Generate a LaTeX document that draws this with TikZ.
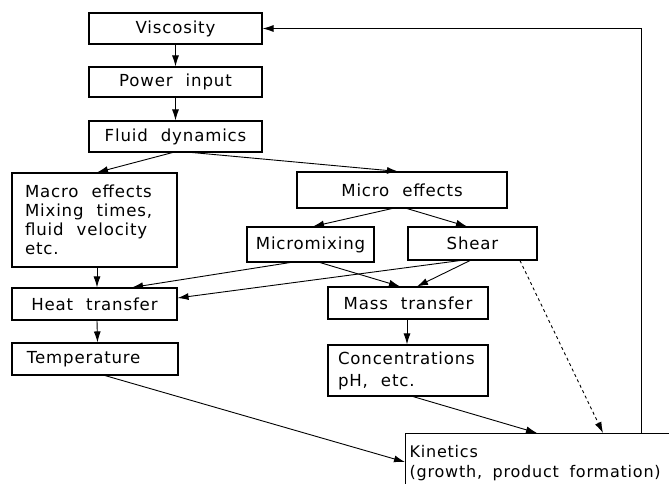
\documentclass[tikz,border=0pt]{standalone}
\usepackage{fontspec}
\setmainfont{DejaVu Sans}[LetterSpace=5]
\usetikzlibrary{arrows.meta}

\newcommand\flowfont[3][16.6]{\fontsize{#1}{#2}\selectfont\spaceskip #3\relax}

\tikzset{
  flowbox/.style={draw, line width=1.1pt, inner sep=0pt, font={\flowfont{19pt}{13pt}}},
  flowarrow/.style={-{Latex[length=11pt,width=7pt]}, line width=0.9pt}
}

\begin{document}
\begin{tikzpicture}[x=1pt,y=-1pt]
\useasboundingbox (0,0) rectangle (669,484);
\clip (0,0) rectangle (669,484);

\node[flowbox, minimum width=173pt, minimum height=31pt] (visc) at (175.5,28.5) {Viscosity};
\node[flowbox, minimum width=173pt, minimum height=30pt] (power) at (175.5,82) {Power input};
\node[flowbox, minimum width=173pt, minimum height=31pt] (fluid) at (175.5,136.5) {Fluid dynamics};

\node[flowbox, minimum height=94pt, inner xsep=13pt, text width=139pt, align=flush left] (macro) at (94.5,220)
  {Macro effects\\Mixing times,\\fluid velocity\\etc.};
\node[flowbox, minimum width=210pt, minimum height=36pt] (micro) at (402,190) {Micro effects};
\node[flowbox, minimum width=127pt, minimum height=35pt] (micromix) at (310.5,244.5) {Micromixing};
\node[flowbox, minimum width=129pt, minimum height=33pt] (shear) at (472.5,243.5) {Shear};

\node[flowbox, minimum width=165pt, minimum height=32pt] (heat) at (94.5,304) {Heat transfer};
\node[flowbox, minimum height=32pt, inner xsep=15pt, text width=136pt, align=flush left] (temp) at (95,359) {Temperature};
\node[flowbox, minimum width=160pt, minimum height=32pt] (mass) at (408,303) {Mass transfer};
\node[flowbox, minimum height=51pt, inner xsep=10pt, text width=140pt, align=flush left,
  font={\flowfont{22pt}{13pt}}] (conc) at (408,370.5) {Concentrations\\pH, etc.};

\node[flowbox, anchor=north west, inner xsep=4pt, inner ysep=12pt, text width=300pt, align=flush left,
  font={\flowfont[16]{20pt}{10.5pt}}] (kin) at (405,433) {Kinetics\\(growth, product formation)};

% main chain
\draw[flowarrow] (visc) -- (power);
\draw[flowarrow] (power) -- (fluid);
\draw[flowarrow] ([xshift=-3pt]fluid.south) -- ([xshift=2.5pt]macro.north);
\draw[flowarrow] ([xshift=17pt]fluid.south) -- ([xshift=-4pt]micro.north);

\draw[flowarrow] ([xshift=-10pt]micro.south) -- ([xshift=2.5pt]micromix.north);
\draw[flowarrow] ([xshift=5pt]micro.south) -- ([xshift=-5.5pt]shear.north);

% into heat and mass transfer
\draw[flowarrow] ([xshift=2.5pt]macro.south) -- ([xshift=2.5pt]heat.north);
\draw[flowarrow] ([xshift=-20.5pt]micromix.south) -- ([xshift=37.5pt]heat.north);
\draw[flowarrow] ([xshift=-12.5pt]shear.south) -- ([yshift=6pt]heat.east);
\draw[flowarrow] ([xshift=9.5pt]micromix.south) -- ([xshift=-8pt]mass.north);
\draw[flowarrow] ([xshift=-2.5pt]shear.south) -- ([xshift=9pt]mass.north);

\draw[flowarrow] ([xshift=2.5pt]heat.south) -- ([xshift=2.5pt]temp.north);
\draw[flowarrow] ([xshift=-1pt]mass.south) -- ([xshift=-1pt]conc.north);

% into kinetics
\draw[flowarrow] ([xshift=10pt]temp.south) -- ([yshift=-29pt]kin.north west);
\draw[flowarrow] ([xshift=5pt]conc.south) -- ([xshift=132pt]kin.north west);
\draw[flowarrow, dashed] ([xshift=47.5pt]shear.south) -- ([xshift=198pt]kin.north west);

% feedback
\draw[flowarrow] ([xshift=236pt]kin.north west) |- (visc.east);

\end{tikzpicture}
\end{document}
